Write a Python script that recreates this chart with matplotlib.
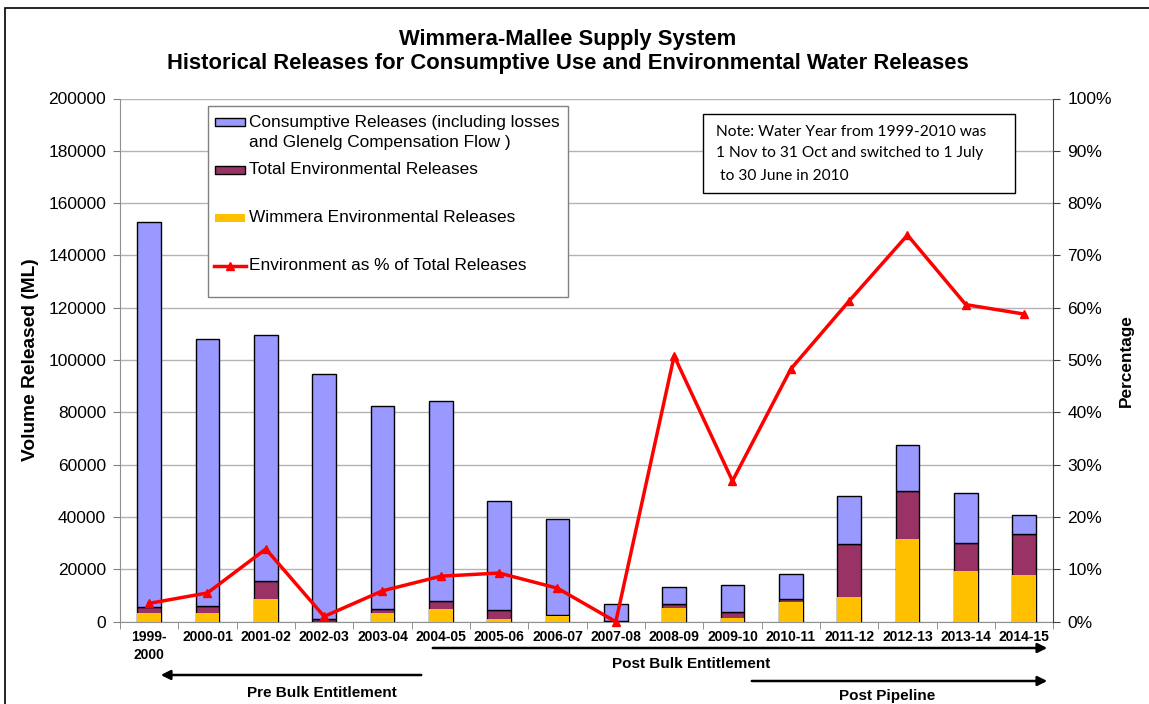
import matplotlib
matplotlib.use("Agg")
import matplotlib.pyplot as plt
from matplotlib.patches import Rectangle, FancyArrowPatch
from matplotlib.lines import Line2D
import numpy as np

plt.rcParams['font.family'] = ['Liberation Sans', 'DejaVu Sans']

years = ["1999-\n2000", "2000-01", "2001-02", "2002-03", "2003-04", "2004-05",
         "2005-06", "2006-07", "2007-08", "2008-09", "2009-10", "2010-11",
         "2011-12", "2012-13", "2013-14", "2014-15"]
# Top of total bar (consumptive + environmental), ML
total_top = [152600, 108000, 109600, 94700, 82500, 84500, 46200, 39300, 6600,
             13400, 13900, 18400, 48100, 67600, 49100, 40800]
# Total environmental releases, ML
env_total = [5500, 6100, 15400, 1200, 4900, 7900, 4300, 2400, 200,
             6600, 3700, 8700, 29600, 50000, 30000, 33400]
# Wimmera environmental releases, ML
wimmera_env = [3400, 3400, 8800, 0, 3400, 5000, 900, 2300, 0,
               5100, 1400, 7500, 9300, 31500, 19400, 17900]
# Environment as % of total releases
env_pct = [3.5, 5.5, 13.9, 1.0, 5.9, 8.7, 9.3, 6.4, 0.0,
           50.8, 26.9, 48.3, 61.3, 73.9, 60.6, 58.8]
consumptive = [t - e for t, e in zip(total_top, env_total)]

W, H = 1149, 704
fig = plt.figure(figsize=(W / 100, H / 100), dpi=100)

def fx(px):
    return px / W

def fy(py):
    return (H - py) / H

ax = fig.add_axes([fx(120), fy(621.7), fx(1053.3) - fx(120), fy(98.5) - fy(621.7)])
x = np.arange(len(years))
bw = 0.41
C_BLUE = '#9999FF'
C_MAROON = '#993366'
C_YELLOW = '#FFC000'

ax.bar(x, env_total, bw, color=C_MAROON, edgecolor='black', linewidth=1.0, zorder=3)
ax.bar(x, consumptive, bw, bottom=env_total, color=C_BLUE, edgecolor='black', linewidth=1.0, zorder=3)
ax.bar(x, wimmera_env, bw, color=C_YELLOW, edgecolor='none', linewidth=0, zorder=4)

ax.set_xlim(-0.5, len(years) - 0.5)
ax.set_ylim(0, 200000)
ax.set_yticks(np.arange(0, 200001, 20000))
ax.set_yticklabels([str(v) for v in range(0, 200001, 20000)], fontsize=12.5)
ax.yaxis.grid(True, color='#b4b4b4', linewidth=1.0, zorder=0)
ax.set_axisbelow(True)
ax.set_xticks(x)
ax.set_xticklabels(years, fontsize=10, fontweight='bold', linespacing=1.35)
ax.set_xticks(np.arange(-0.5, len(years), 1.0), minor=True)
ax.tick_params(axis='x', which='major', length=0, pad=6)
ax.tick_params(axis='x', which='minor', length=5, color='#808080', direction='out')
ax.tick_params(axis='y', length=5, color='#808080', pad=5)
for s in ['top', 'right']:
    ax.spines[s].set_visible(False)
ax.spines['left'].set_color('#909090')
ax.spines['bottom'].set_color('#909090')
ax.set_ylabel('Volume Released (ML)', fontsize=13.8, fontweight='bold', labelpad=7)

ax2 = ax.twinx()
ax2.plot(x, env_pct, color='#FF0000', linewidth=2.5, marker='^', markersize=6,
         zorder=5, clip_on=False)
ax2.set_ylim(0, 100)
ax2.set_yticks(np.arange(0, 101, 10))
ax2.set_yticklabels([f'{v}%' for v in range(0, 101, 10)], fontsize=12.5)
ax2.tick_params(axis='y', length=5, color='#404040', pad=5)
for s in ['top', 'left', 'bottom']:
    ax2.spines[s].set_visible(False)
ax2.spines['right'].set_color('#404040')
ax2.set_ylabel('Percentage', fontsize=12.4, fontweight='bold', labelpad=5)

# Titles
fig.text(fx(568), fy(40), 'Wimmera-Mallee Supply System', ha='center', va='center',
         fontsize=15.8, fontweight='bold')
fig.text(fx(568), fy(64), 'Historical Releases for Consumptive Use and Environmental Water Releases',
         ha='center', va='center', fontsize=15.8, fontweight='bold')

# Outer frame
fig.patches.append(Rectangle((fx(5), fy(720)), 2, fy(8) - fy(720), transform=fig.transFigure,
                             fill=False, edgecolor='black', linewidth=1.2))

# Legend (manual)
fig.patches.append(Rectangle((fx(208), fy(297)), fx(568) - fx(208), fy(106) - fy(297),
                             transform=fig.transFigure, facecolor='white',
                             edgecolor='#808080', linewidth=1.0, zorder=10))
leg_fs = 12.4
def leg_patch(py, color, edge):
    fig.patches.append(Rectangle((fx(215), fy(py + 4)), fx(245) - fx(215), fy(py - 4) - fy(py + 4),
                                 transform=fig.transFigure, facecolor=color,
                                 edgecolor=edge, linewidth=1.0 if edge != 'none' else 0,
                                 zorder=11))
leg_patch(122, C_BLUE, 'black')
fig.text(fx(249), fy(122.5), 'Consumptive Releases (including losses', ha='left', va='center',
         fontsize=leg_fs, zorder=12)
fig.text(fx(249), fy(142.5), 'and Glenelg Compensation Flow )', ha='left', va='center',
         fontsize=leg_fs, zorder=12)
leg_patch(170, C_MAROON, 'black')
fig.text(fx(249), fy(170), 'Total Environmental Releases', ha='left', va='center',
         fontsize=leg_fs, zorder=12)
leg_patch(218, C_YELLOW, 'none')
fig.text(fx(249), fy(218), 'Wimmera Environmental Releases', ha='left', va='center',
         fontsize=leg_fs, zorder=12)
fig.lines.append(Line2D([fx(214), fx(246)], [fy(266), fy(266)], transform=fig.transFigure,
                        color='#FF0000', linewidth=2.5, zorder=11))
fig.lines.append(Line2D([fx(230)], [fy(266)], transform=fig.transFigure, color='#FF0000',
                        marker='^', markersize=6, zorder=11))
fig.text(fx(249), fy(266), 'Environment as % of Total Releases', ha='left', va='center',
         fontsize=leg_fs, zorder=12)

# Note box
fig.patches.append(Rectangle((fx(703), fy(193)), fx(1015) - fx(703), fy(114) - fy(193),
                             transform=fig.transFigure, facecolor='white',
                             edgecolor='black', linewidth=1.0, zorder=10))
note_lines = ['Note: Water Year from 1999-2010 was', '1 Nov to 31 Oct and switched to 1 July',
              ' to 30 June in 2010']
for i, t in enumerate(note_lines):
    fig.text(fx(716), fy(131.5 + 22 * i), t, ha='left', va='center', fontsize=11.2,
             family=['Lato', 'DejaVu Sans'], zorder=12)

# Period arrows
def arrow(x0, x1, py):
    fig.patches.append(FancyArrowPatch((fx(x0), fy(py)), (fx(x1), fy(py)),
                                       transform=fig.transFigure, arrowstyle='-|>',
                                       mutation_scale=14, color='black', linewidth=1.8))
arrow(430, 1050, 648)
fig.text(fx(691), fy(664), 'Post Bulk Entitlement', ha='center', va='center', fontsize=11,
         fontweight='bold')
arrow(424, 158, 675)
fig.text(fx(322), fy(693), 'Pre Bulk Entitlement', ha='center', va='center', fontsize=11,
         fontweight='bold')
arrow(749, 1050, 681)
fig.text(fx(887), fy(696), 'Post Pipeline', ha='center', va='center', fontsize=11,
         fontweight='bold')

fig.savefig('out.png', dpi=100)
